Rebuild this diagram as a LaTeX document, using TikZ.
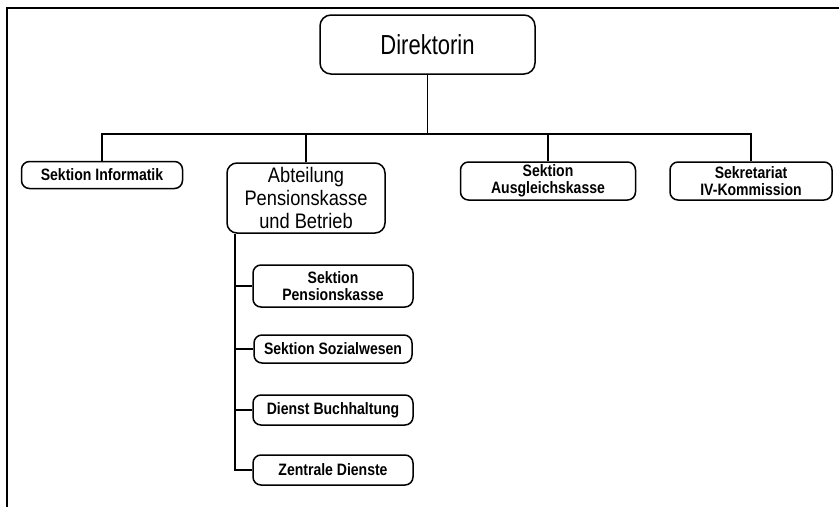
\documentclass[tikz,border=0pt]{standalone}
\usepackage{fontspec}
\setmainfont{Liberation Sans}
\newfontfamily\headfont[FakeStretch=0.8]{Liberation Sans}
\newfontfamily\deptfont[FakeStretch=0.87]{Liberation Sans}
\newfontfamily\unitfont[FakeStretch=0.85]{Liberation Sans}
\begin{document}
\begin{tikzpicture}[x=1pt,y=-1pt,
  box/.style={draw, line width=1.5pt, align=center, inner sep=0pt},
  head/.style={box, rounded corners=11pt, font=\headfont\fontsize{27.5}{30}\selectfont},
  dept/.style={box, rounded corners=10pt, font=\deptfont\fontsize{21}{23}\selectfont},
  unit/.style={box, rounded corners=8pt, font=\unitfont\bfseries\fontsize{16.5}{17}\selectfont},
  link/.style={line width=1.1pt}]
  \useasboundingbox (0,0) rectangle (839,507);

  % page frame (top and left rules)
  \draw[line width=1.8pt] (839,8) -- (7,8) -- (7,507);

  % top of the hierarchy
  \node[head, minimum width=215pt, minimum height=59pt] (dir) at (427.5,44.5) {Direktorin};

  % first level
  \node[unit, minimum width=161pt, minimum height=27pt] (inf) at (102,175) {Sektion Informatik};
  \node[dept, minimum width=158pt, minimum height=70pt] (abt) at (306,198) {Abteilung\\Pensionskasse\\und Betrieb};
  \node[unit, minimum width=175pt, minimum height=38pt] (aus) at (548,181) {Sektion\\Ausgleichskasse};
  \node[unit, minimum width=162pt, minimum height=38pt] (sek) at (751,181) {Sekretariat\\IV-Kommission};

  % units of the department
  \node[unit, minimum width=160pt, minimum height=42pt] (pk) at (333,286) {Sektion\\Pensionskasse};
  \node[unit, minimum width=158pt, minimum height=28pt] (soz) at (333,349) {Sektion Sozialwesen};
  \node[unit, minimum width=160pt, minimum height=30pt] (buch) at (333,410) {Dienst Buchhaltung};
  \node[unit, minimum width=160pt, minimum height=30pt] (zen) at (333,470) {Zentrale Dienste};

  % bus below the director
  \coordinate (bus) at (0,134);
  \draw[link] (dir.south) -- (dir.south |- bus);
  \draw[link] (inf.north) |- (sek.north |- bus) -- (sek.north);
  \draw[link] (abt.north) -- (abt.north |- bus);
  \draw[link] (aus.north) -- (aus.north |- bus);

  % trunk of the department
  \coordinate (trunk) at (235,0);
  \draw[link] (abt.south -| trunk) |- (zen.west);
  \draw[link] (pk.west -| trunk) -- (pk.west);
  \draw[link] (soz.west -| trunk) -- (soz.west);
  \draw[link] (buch.west -| trunk) -- (buch.west);
\end{tikzpicture}
\end{document}
